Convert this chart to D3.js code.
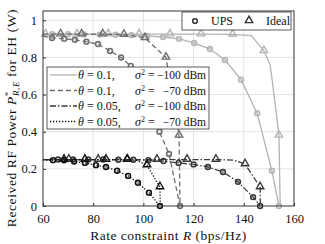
<!DOCTYPE html>
<html>
<head>
<meta charset="utf-8">
<script src="https://cdn.jsdelivr.net/npm/d3@7"></script>
<style>
  body { margin: 0; background: #fff; }
  text { font-family: "Liberation Serif", "Times New Roman", serif; fill: #111; }
</style>
</head>
<body>
<script>
// axis ticks
var rateTicks = [60, 80, 100, 120, 140, 160];
var powerTicks = [0, 0.2, 0.4, 0.6, 0.8, 1];

// theta = 0.1, sigma^2 = -100 dBm
var upsR1 = [60, 63.7, 70, 76.3, 82.6, 88.9, 95.2, 101.5, 107.8, 114.2, 120.2, 126.5, 132.5, 138.9, 145.3, 151.2, 154];
var upsP1 = [0.925, 0.925, 0.925, 0.924, 0.923, 0.922, 0.92, 0.916, 0.91, 0.9, 0.878, 0.845, 0.786, 0.68, 0.5, 0.19, 0];
var idealR1 = [61, 73.5, 86, 98.3, 110.6, 123, 135.5, 143, 148, 150.5, 152.5, 154, 154.5];
var idealP1 = [0.925, 0.925, 0.925, 0.925, 0.925, 0.925, 0.924, 0.918, 0.835, 0.76, 0.55, 0.38, 0];
var idealMarks1 = [0, 1, 2, 3, 4, 5, 6, 8, 11];

// theta = 0.1, sigma^2 = -70 dBm
var upsR2 = [60, 63.6, 68.4, 72.7, 77.3, 81.9, 86.7, 91.1, 95, 98.8, 102.6, 106.4, 110.2, 114.6];
var upsP2 = [0.915, 0.905, 0.9, 0.895, 0.885, 0.872, 0.835, 0.8, 0.754, 0.64, 0.52, 0.4, 0.28, 0];
var idealR2 = [60, 67, 75.4, 83.8, 92.2, 100.6, 109, 114.2, 114.6];
var idealP2 = [0.925, 0.925, 0.925, 0.925, 0.923, 0.905, 0.8, 0.38, 0];
var idealMarks2 = [1, 2, 3, 4, 5, 6, 7];

// theta = 0.05, sigma^2 = -100 dBm
var upsR3 = [60, 66, 72, 78, 84, 90, 96, 102, 108, 114, 120, 125.7, 131.7, 137.7, 143.7, 146.5];
var upsP3 = [0.25, 0.25, 0.25, 0.25, 0.25, 0.249, 0.249, 0.247, 0.242, 0.232, 0.224, 0.21, 0.183, 0.13, 0.048, 0];
var idealR3 = [60, 70.3, 82, 93.7, 105.4, 117.4, 128.9, 136, 140.5, 146.5, 146.6];
var idealP3 = [0.25, 0.25, 0.25, 0.25, 0.25, 0.25, 0.25, 0.247, 0.226, 0.102, 0];
var idealMarks3 = [1, 2, 3, 4, 5, 6, 8, 9];

// theta = 0.05, sigma^2 = -70 dBm
var upsR4 = [60, 64, 68.4, 72.4, 76.7, 81.1, 85.1, 89.5, 93.9, 97.8, 102.2, 106.6];
var upsP4 = [0.248, 0.247, 0.246, 0.24, 0.232, 0.22, 0.21, 0.19, 0.162, 0.125, 0.072, 0];
var idealR4 = [60, 68.4, 76.7, 85.1, 93.5, 97.5, 101.4, 106.6, 106.7];
var idealP4 = [0.25, 0.25, 0.25, 0.25, 0.25, 0.245, 0.22, 0.102, 0];
var idealMarks4 = [1, 2, 3, 4, 6, 7];

var legendLabels = [
  ["0.1,", "\u2212100 dBm"],
  ["0.1,", "\u221270 dBm"],
  ["0.05,", "\u2212100 dBm"],
  ["0.05,", "\u221270 dBm"]
];

var W = 325, H = 244;
var mLeft = 43, mRight = 294, mTop = 11, mBottom = 206;

var x = d3.scaleLinear().domain([60, 160]).range([mLeft, mRight]);
var y = d3.scaleLinear().domain([0, 1.05]).range([mBottom, mTop]);

var svg = d3.select("body").append("svg").attr("width", W).attr("height", H);

// grid
svg.append("g").selectAll("line").data(rateTicks.slice(1, -1)).enter().append("line")
  .attr("x1", function(d) { return x(d); }).attr("x2", function(d) { return x(d); })
  .attr("y1", mTop).attr("y2", mBottom)
  .style("stroke", "#e3e3e3").style("stroke-width", 1);
svg.append("g").selectAll("line").data(powerTicks.slice(1)).enter().append("line")
  .attr("y1", function(d) { return y(d); }).attr("y2", function(d) { return y(d); })
  .attr("x1", mLeft).attr("x2", mRight)
  .style("stroke", "#e3e3e3").style("stroke-width", 1);

// series styles
var series = [
  { r: upsR1, p: upsP1, mark: "circle", color: "#b4b4b4", dash: null },
  { r: idealR1, p: idealP1, marks: idealMarks1, mark: "tri", color: "#b4b4b4", dash: null },
  { r: upsR2, p: upsP2, mark: "circle", color: "#6e6e6e", dash: "5,3" },
  { r: idealR2, p: idealP2, marks: idealMarks2, mark: "tri", color: "#6e6e6e", dash: "5,3" },
  { r: upsR3, p: upsP3, mark: "circle", color: "#383838", dash: "6,2,1.5,2" },
  { r: idealR3, p: idealP3, marks: idealMarks3, mark: "tri", color: "#383838", dash: "6,2,1.5,2" },
  { r: upsR4, p: upsP4, mark: "circle", color: "#111", dash: "1.3,1.7" },
  { r: idealR4, p: idealP4, marks: idealMarks4, mark: "tri", color: "#111", dash: "1.3,1.7" }
];

var line = d3.line().x(function(d) { return x(d[0]); }).y(function(d) { return y(d[1]); });
var triPath = d3.symbol().type(d3.symbolTriangle).size(24);

var plot = svg.append("g");
series.forEach(function(s) {
  var pts = s.r.map(function(r, i) { return [r, s.p[i]]; });
  plot.append("path").attr("d", line(pts))
    .style("fill", "none").style("stroke", s.color).style("stroke-width", 1.3)
    .style("stroke-dasharray", s.dash);
  var idx = s.marks || d3.range(1, pts.length);
  var mpts = idx.map(function(i) { return pts[i]; });
  if (s.mark == "circle") {
    plot.append("g").selectAll("circle").data(mpts).enter().append("circle")
      .attr("cx", function(d) { return x(d[0]); }).attr("cy", function(d) { return y(d[1]); })
      .attr("r", 2.4)
      .style("fill", "none").style("stroke", s.color).style("stroke-width", 1.6);
  } else {
    plot.append("g").selectAll("path").data(mpts).enter().append("path")
      .attr("d", triPath)
      .attr("transform", function(d) { return "translate(" + x(d[0]) + "," + (y(d[1]) - 0.5) + ")"; })
      .style("fill", "none").style("stroke", s.color).style("stroke-width", 1.4);
  }
});

// axes box
svg.append("rect").attr("x", mLeft).attr("y", mTop).attr("width", mRight - mLeft).attr("height", mBottom - mTop)
  .style("fill", "none").style("stroke", "#333").style("stroke-width", 1);

var xAxis = svg.append("g").attr("transform", "translate(0," + mBottom + ")")
  .call(d3.axisBottom(x).tickValues(rateTicks).tickSize(-3).tickPadding(8));
var yAxis = svg.append("g").attr("transform", "translate(" + mLeft + ",0)")
  .call(d3.axisLeft(y).tickValues(powerTicks).tickSize(-3).tickPadding(6).tickFormat(d3.format("")));
[xAxis, yAxis].forEach(function(a) {
  a.select(".domain").remove();
  a.selectAll("line").style("stroke", "#333");
  a.selectAll("text").style("font-size", "12.5px").style("font-family", "Liberation Serif").style("fill", "#111");
});

// axis titles
var xt = svg.append("text").attr("x", (mLeft + mRight) / 2).attr("y", 240)
  .attr("text-anchor", "middle").style("font-size", "13.5px").style("letter-spacing", "0.5px");
xt.append("tspan").text("Rate constraint ");
xt.append("tspan").style("font-style", "italic").text("R");
xt.append("tspan").text(" (bps/Hz)");

var yt = svg.append("text").attr("transform", "translate(16,118) rotate(-90)")
  .attr("text-anchor", "middle").style("font-size", "13.5px").style("letter-spacing", "0.6px");
yt.append("tspan").text("Received RF Power ");
yt.append("tspan").style("font-style", "italic").text("P");
yt.append("tspan").attr("dy", -5).style("font-size", "9px").text("*");
yt.append("tspan").attr("dx", -5).attr("dy", 8).style("font-size", "9px").style("font-style", "italic").text("R,E");
yt.append("tspan").attr("dy", -3).text(" for EH (W)");

// legend: parameter combos
var lg = svg.append("g");
lg.append("rect").attr("x", 47).attr("y", 67).attr("width", 162).attr("height", 62)
  .style("fill", "#fff").style("stroke", "#333").style("stroke-width", 0.8);
var styles = [series[0], series[2], series[4], series[6]];
legendLabels.forEach(function(lab, i) {
  var cy = 75 + i * 15.5;
  lg.append("line").attr("x1", 50).attr("x2", 77).attr("y1", cy).attr("y2", cy)
    .style("stroke", styles[i].color).style("stroke-width", 1.3).style("stroke-dasharray", styles[i].dash);
  var t1 = lg.append("text").attr("x", 78).attr("y", cy + 4).style("font-size", "12px");
  t1.append("tspan").style("font-style", "italic").text("\u03b8");
  t1.append("tspan").text(" = " + lab[0]);
  var t2 = lg.append("text").attr("x", 135).attr("y", cy + 4).style("font-size", "12px");
  t2.append("tspan").style("font-style", "italic").text("\u03c3");
  t2.append("tspan").attr("dy", -4).style("font-size", "8px").text("2");
  t2.append("tspan").attr("dy", 4).text(" =");
  lg.append("text").attr("x", 206).attr("y", cy + 4).attr("text-anchor", "end")
    .style("font-size", "11.5px").text(lab[1]);
});

// legend: UPS / Ideal
var lg2 = svg.append("g");
lg2.append("rect").attr("x", 182).attr("y", 12).attr("width", 109).attr("height", 18)
  .style("fill", "#fff").style("stroke", "#333").style("stroke-width", 0.8);
lg2.append("circle").attr("cx", 195).attr("cy", 21).attr("r", 2.3)
  .style("fill", "none").style("stroke", "#333").style("stroke-width", 1.6);
lg2.append("text").attr("x", 211).attr("y", 25).style("font-size", "12px").text("UPS");
lg2.append("path").attr("d", triPath).attr("transform", "translate(249,20.5)")
  .style("fill", "none").style("stroke", "#333").style("stroke-width", 1.4);
lg2.append("text").attr("x", 266).attr("y", 25).style("font-size", "12px").text("Ideal");
</script>
</body>
</html>
